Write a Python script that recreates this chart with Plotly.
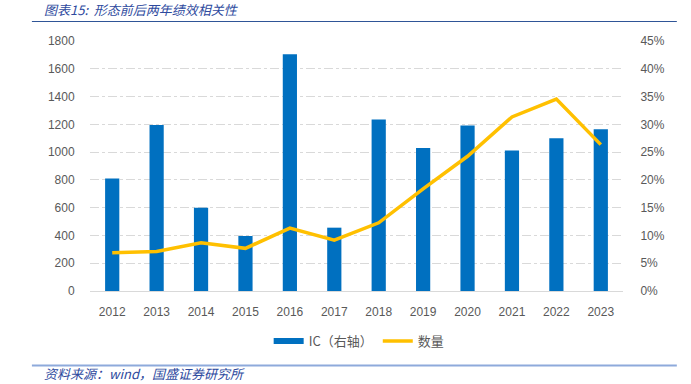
import plotly.graph_objects as go

years = ["2012", "2013", "2014", "2015", "2016", "2017", "2018", "2019", "2020", "2021", "2022", "2023"]
# IC (right axis, %)
ic = [0.2025, 0.299, 0.150, 0.099, 0.426, 0.114, 0.3085, 0.2575, 0.298, 0.253, 0.275, 0.291]
# 数量 (left axis)
count = [275, 285, 347, 307, 453, 366, 491, 735, 970, 1253, 1382, 1054]

left_ticks = [0, 200, 400, 600, 800, 1000, 1200, 1400, 1600, 1800]

BLUE = "#0070C0"
YELLOW = "#FFC000"
GRAY = "#595959"
TITLE_BLUE = "#2E4A9E"

fig = go.Figure()
fig.add_trace(go.Bar(x=years, y=ic, marker=dict(color=BLUE, line=dict(width=0)),
                     name="IC（右轴）", showlegend=False, yaxis="y"))
fig.add_trace(go.Scatter(x=years, y=count, mode="lines", line=dict(color=YELLOW, width=3.5),
                         name="数量", showlegend=False, yaxis="y2"))
# legend proxies
fig.add_trace(go.Scatter(x=[None], y=[None], mode="lines", line=dict(color=BLUE, width=6),
                         name="IC（右轴）", yaxis="y2"))
fig.add_trace(go.Scatter(x=[None], y=[None], mode="lines", line=dict(color=YELLOW, width=3.5),
                         name="数量", yaxis="y2"))

fig.update_layout(
    width=691, height=384,
    margin=dict(l=90, r=68, t=41, b=93),
    paper_bgcolor="white", plot_bgcolor="white",
    font=dict(family="Liberation Sans, Arial, sans-serif", size=12, color=GRAY),
    bargap=0.68,
    xaxis=dict(type="category", showline=True, linecolor="#D9D9D9", linewidth=1,
               showgrid=False, ticks="outside", ticklen=10, tickcolor="rgba(0,0,0,0)",
               tickfont=dict(size=12, color=GRAY), automargin=False),
    yaxis=dict(side="right", range=[0, 0.45], dtick=0.05, tickformat=".0%",
               showgrid=True, gridcolor="#D9D9D9", griddash="dashdot", gridwidth=1,
               zeroline=False, ticks="outside", ticklen=14, tickcolor="rgba(0,0,0,0)",
               tickfont=dict(size=12, color=GRAY), automargin=False),
    yaxis2=dict(side="left", overlaying="y", range=[0, 1800], tickvals=left_ticks,
                showgrid=False, zeroline=False, ticks="outside", ticklen=12,
                tickcolor="rgba(0,0,0,0)", tickfont=dict(size=12, color=GRAY), automargin=False),
    legend=dict(orientation="h", x=0.505, xanchor="center", y=-0.2, yanchor="middle",
                font=dict(family="Noto Sans CJK SC", size=13, color=GRAY),
                itemwidth=30, traceorder="normal", bgcolor="rgba(0,0,0,0)"),
    showlegend=True,
)

fig.add_annotation(text="图表15:  形态前后两年绩效相关性", xref="paper", yref="paper",
                   x=-0.09, y=1.125, xanchor="left", yanchor="middle", showarrow=False,
                   font=dict(family="Noto Sans CJK SC", size=13, color=TITLE_BLUE, style="italic"))
fig.add_annotation(text="资料来源：wind，国盛证券研究所", xref="paper", yref="paper",
                   x=-0.09, y=-0.33, xanchor="left", yanchor="middle", showarrow=False,
                   font=dict(family="Noto Sans CJK SC", size=13, color=TITLE_BLUE, style="italic"))
fig.add_shape(type="line", xref="paper", yref="paper", x0=-0.109, x1=1.101, y0=1.078, y1=1.078,
              line=dict(color="#2F5597", width=1.2))
fig.add_shape(type="line", xref="paper", yref="paper", x0=-0.109, x1=1.101, y0=-0.298, y1=-0.298,
              line=dict(color="#8EAADB", width=2))

fig.write_html("out.html", config={"displayModeBar": False},
               post_script="document.body.style.margin='0';")
